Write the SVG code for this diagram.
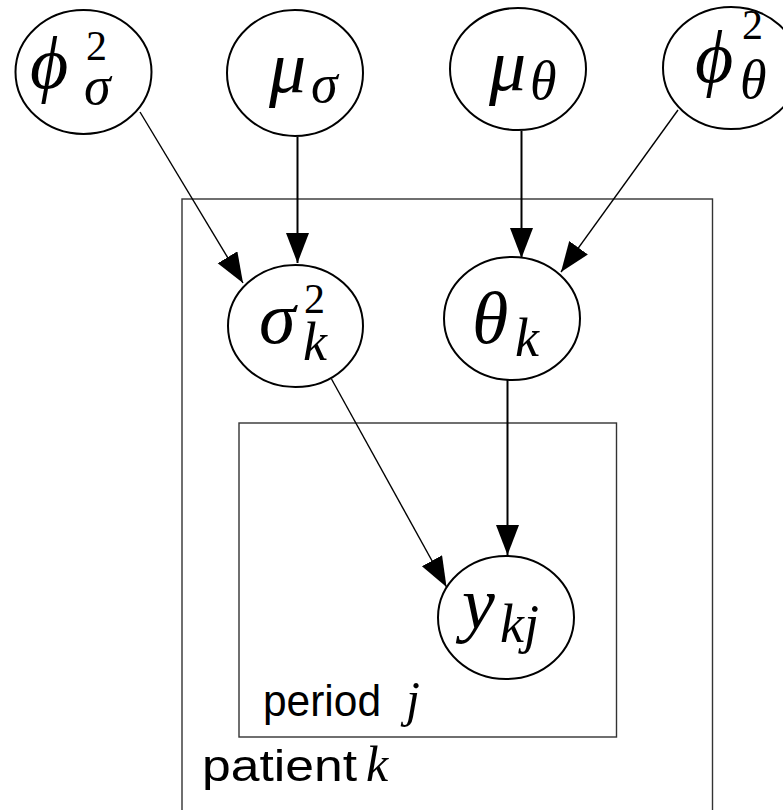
<svg xmlns="http://www.w3.org/2000/svg" width="783" height="810" viewBox="0 0 783 810">
<style>
.node ellipse{fill:#fff;stroke:#000;stroke-width:2}
.plate{fill:none;stroke:#333;stroke-width:1.4}
.m{font-family:"Liberation Serif","DejaVu Serif",serif;font-style:italic;font-size:74px;fill:#000}
.s{font-size:54px}
.n{font-size:42px;font-style:normal}
.lab{font-family:"Liberation Sans","DejaVu Sans",sans-serif;font-size:45px;fill:#000}
.lm{font-family:"Liberation Serif","DejaVu Serif",serif;font-style:italic;font-size:50px}
.e{stroke:#000;stroke-width:1.4;fill:none;marker-end:url(#ah)}
.v{stroke-width:2}
</style>
<defs>
<marker id="ah" markerUnits="userSpaceOnUse" markerWidth="32" markerHeight="26" refX="30" refY="11.5" orient="auto">
<path d="M0,0 L30,11.5 L0,23 Z" fill="#000"/>
</marker>
</defs>
<g id="plates">
<rect id="plate-patient" class="plate" x="182" y="199" width="530.5" height="640"/>
<rect id="plate-period" class="plate" x="239" y="423" width="377.5" height="314"/>
<text class="lab" x="263" y="716"><tspan textLength="118" lengthAdjust="spacingAndGlyphs">period</tspan><tspan class="lm" x="406">j</tspan></text>
<text class="lab" x="202" y="781"><tspan textLength="155" lengthAdjust="spacingAndGlyphs">patient</tspan><tspan class="lm" x="366">k</tspan></text>
</g>
<g id="connectors">
<line class="e" x1="140" y1="112" x2="243" y2="283"/>
<line class="e v" x1="297.5" y1="137" x2="297.5" y2="263"/>
<line class="e v" x1="521.5" y1="131" x2="521.5" y2="258"/>
<line class="e" x1="678" y1="110" x2="561" y2="272"/>
<line class="e" x1="331.5" y1="379" x2="446.5" y2="587"/>
<line class="e v" x1="507.5" y1="380" x2="507.5" y2="555"/>
</g>
<g id="phi_sigma" class="node">
<ellipse cx="83.5" cy="72" rx="68" ry="62"/>
<text class="m" x="30" y="88">ϕ<tspan class="n" x="86" y="60">2</tspan><tspan class="s" x="84" y="104">σ</tspan></text>
</g>
<g id="mu_sigma" class="node">
<ellipse cx="295" cy="73" rx="68" ry="63"/>
<text class="m" x="269" y="92">μ<tspan class="s" x="311" y="102">σ</tspan></text>
</g>
<g id="mu_theta" class="node">
<ellipse cx="518" cy="69" rx="68" ry="61"/>
<text class="m" x="489" y="90">μ<tspan class="s" x="530" y="99">θ</tspan></text>
</g>
<g id="phi_theta" class="node">
<ellipse cx="731" cy="68" rx="68" ry="61"/>
<text class="m" x="695" y="82">ϕ<tspan class="n" x="742" y="39">2</tspan><tspan class="s" x="740" y="98">θ</tspan></text>
</g>
<g id="sigma_k" class="node">
<ellipse cx="295.5" cy="326" rx="67.5" ry="61"/>
<text class="m" x="259" y="343">σ<tspan class="n" x="304" y="313">2</tspan><tspan class="s" x="303" y="360">k</tspan></text>
</g>
<g id="theta_k" class="node">
<ellipse cx="512" cy="318.5" rx="68" ry="61.5"/>
<text class="m" x="472" y="343">θ<tspan class="s" x="515" y="356">k</tspan></text>
</g>
<g id="y_kj" class="node">
<ellipse cx="506" cy="617.5" rx="68" ry="61.5"/>
<text class="m" x="462" y="628">y<tspan class="s" x="500" y="642">kj</tspan></text>
</g>
</svg>
